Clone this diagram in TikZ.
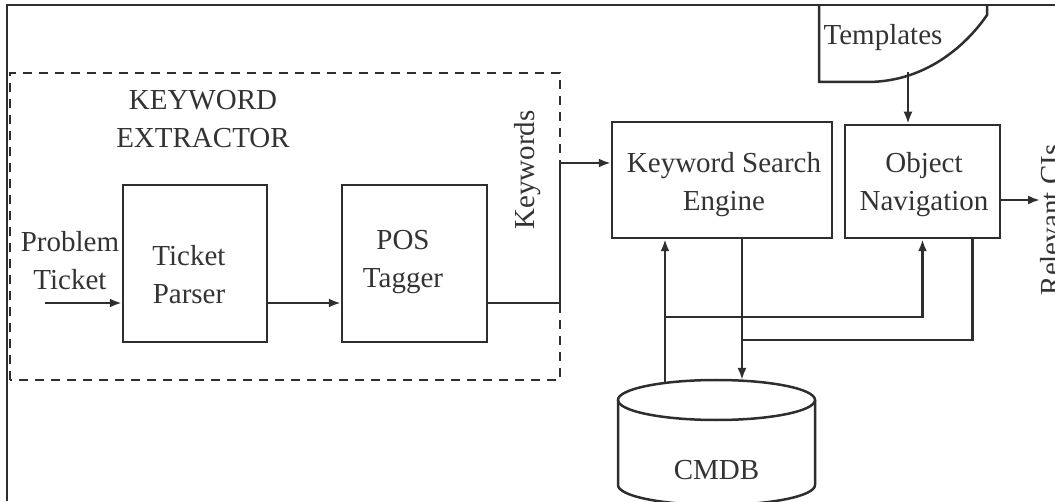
\documentclass[tikz,border=0pt]{standalone}
\usepackage{fontspec}
\setmainfont{Liberation Serif}
\usepackage{tikz}
\usetikzlibrary{arrows,arrows.meta,shapes,positioning}
\definecolor{inkgray}{HTML}{2E2E2E}
\definecolor{textgray}{HTML}{333333}

\begin{document}
\begin{tikzpicture}[x=1pt, y=1pt,
	every node/.append style={
		font=\fontsize{29}{38}\selectfont,
		text=textgray,
		align=center
	},
	block/.style={draw=inkgray, line width=2.5pt, inner sep=0},
	wire/.style={draw=inkgray, line width=2.5pt},
	>={Latex[length=12pt,width=9pt]}]
	\path[use as bounding box, clip] (0,0) rectangle (1055,501);
	% frame and extractor area
	\draw[inkgray, line width=2.8pt] (7,0) -- (7,496) -- (1055,496);
	\draw[inkgray, line width=2.8pt, dash pattern=on 9pt off 7pt] (10,121) rectangle (560,428);
	\node [] (kwlabel) at (203,382) {KEYWORD\\EXTRACTOR};
	% blocks
	\node [block, minimum width=144, minimum height=157] (parser) at (195,237.5) {};
	\node [] at (189,226) {Ticket\\Parser};
	\node [block, minimum width=145, minimum height=157] (tagger) at (414.5,237.5) {};
	\node [] at (403,239) {POS\\Tagger};
	\node [block, minimum width=220, minimum height=116] (kse) at (722,321) {};
	\node [] at (724,316) {Keyword Search\\Engine};
	\node [block, minimum width=155, minimum height=113] (objnav) at (922.5,319.5) {};
	\node [] at (924,316) {Object\\Navigation};
	\node [] (problem) at (70,240) {Problem\\Ticket};
	\node [rotate=90] (keywords) at (528,331) {Keywords};
	\node [rotate=90, anchor=north, inner sep=0] (relevant) at (1040,281) {Relevant CIs};
	% templates store
	\draw[wire] (819,496) -- (819,419) -- (867,419)
		.. controls (930,419) and (970,461) .. (987,486) -- (987,496);
	\node [] (templates) at (883,463) {Templates};
	% cmdb store
	\draw[wire] (716.5,101) ellipse [x radius=98.5, y radius=20];
	\draw[wire] (618,101) -- (618,16) arc[start angle=180, end angle=360, x radius=98.5, y radius=20] -- (815,101);
	\node [] (cmdb) at (716.5,31) {CMDB};
	% connectors
	\coordinate (start) at (45,198);
	\coordinate (bend) at (560,198);
	\coordinate (tplout) at (908,429);
	\coordinate (out) at (1040,301);
	\coordinate (dbout) at (665,118);
	\coordinate (dbin) at (742,121);
	\coordinate (split) at (665,184);
	\coordinate (merge) at (742,161);
	\draw [->, wire] (start) -- (start -| parser.west);
	\draw [->, wire] (parser.east |- start) -- (tagger.west |- start);
	\draw [->, wire] (tagger.east |- start) -- (bend) |- ([yshift=17]kse.west);
	\draw [->, wire] (tplout) -- (tplout |- objnav.north);
	\draw [->, wire] (objnav.east |- out) -- (out);
	\draw [->, wire] (dbout) -- (dbout |- kse.south);
	\draw [->, wire] (kse.south -| dbin) -- (dbin);
	\draw [->, wire] (split) -| (objnav.south);
	\draw [wire] (merge) -| ([xshift=50]objnav.south);
\end{tikzpicture}
\end{document}
